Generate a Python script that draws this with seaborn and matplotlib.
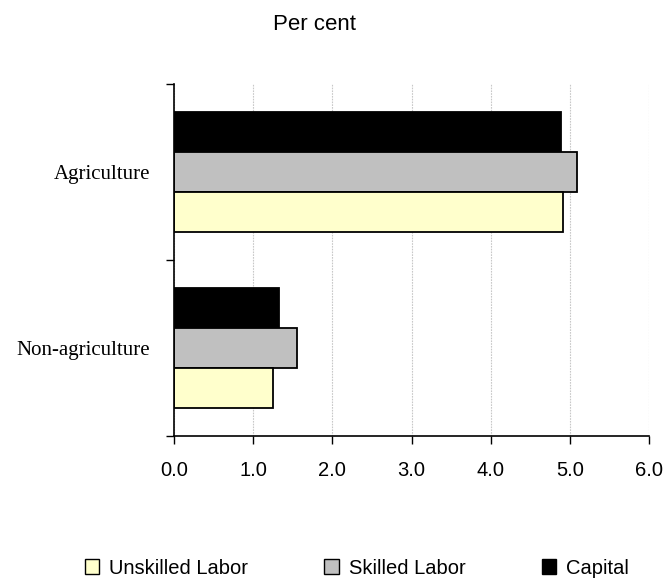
import matplotlib
matplotlib.use("Agg")
import matplotlib.pyplot as plt
from matplotlib.patches import Patch
import seaborn as sns
import pandas as pd

# Sector-level changes by factor of production (per cent)
sectors = ["Agriculture", "Non-agriculture"]
factors = ["Unskilled Labor", "Skilled Labor", "Capital"]
unskilled = [4.91, 1.25]
skilled = [5.09, 1.55]
capital = [4.89, 1.33]
x_ticks = [0.0, 1.0, 2.0, 3.0, 4.0, 5.0, 6.0]

colors = {"Unskilled Labor": "#FFFFCC", "Skilled Labor": "#C0C0C0", "Capital": "#000000"}

df = pd.DataFrame({
    "sector": sectors * 3,
    "factor": ["Unskilled Labor"] * 2 + ["Skilled Labor"] * 2 + ["Capital"] * 2,
    "value": unskilled + skilled + capital,
})

sns.set_style("white")
plt.rcParams["font.family"] = ["Liberation Sans", "DejaVu Sans"]
plt.rcParams["text.color"] = "black"
plt.rcParams["xtick.color"] = "black"
plt.rcParams["ytick.color"] = "black"
plt.rcParams["xtick.labelcolor"] = "black"
plt.rcParams["ytick.labelcolor"] = "black"

fig = plt.figure(figsize=(6.67, 5.78), dpi=100)
ax = fig.add_axes([0.261, 0.246, 0.712, 0.609])

# Capital drawn on top within each group, unskilled at the bottom
sns.barplot(data=df, y="sector", x="value", hue="factor",
            hue_order=["Capital", "Skilled Labor", "Unskilled Labor"],
            order=sectors, orient="h", palette=colors, width=0.68,
            saturation=1, edgecolor="black", linewidth=1.3, legend=False, ax=ax)

ax.set_xlim(0, 6.0)
ax.set_ylim(1.5, -0.5)
ax.set_xticks(x_ticks)
ax.set_xticklabels([f"{v:.1f}" for v in x_ticks], fontsize=14.5)
ax.tick_params(axis="x", bottom=True, direction="out", length=6, width=1.0,
               color="black", labelcolor="black", pad=12)

# Boundary ticks on the category axis, labels centred on each group
ax.set_yticks([-0.5, 0.5, 1.5])
ax.set_yticklabels([])
ax.set_yticks([0, 1], minor=True)
ax.set_yticklabels(sectors, minor=True, fontsize=15,
                   family=["Liberation Serif", "DejaVu Serif"])
ax.tick_params(axis="y", which="major", left=True, direction="out", length=6,
               width=1.0, color="black")
ax.tick_params(axis="y", which="minor", left=True, length=0, pad=17,
               labelcolor="black")

ax.set_xlabel("")
ax.set_ylabel("")
ax.xaxis.grid(True, color="#C8C8C8", linestyle=(0, (1.5, 1)), linewidth=0.8)
ax.yaxis.grid(False)
ax.set_axisbelow(True)

for side in ["top", "right"]:
    ax.spines[side].set_visible(False)
for side in ["left", "bottom"]:
    ax.spines[side].set_color("black")
    ax.spines[side].set_linewidth(1.2)

fig.text(0.471, 1 - 25 / 578, "Per cent", ha="center", va="center", fontsize=16,
         color="black")

handles = [Patch(facecolor=colors[f], edgecolor="black", linewidth=1.0) for f in factors]
fig.legend(handles, factors, loc="center", bbox_to_anchor=(0.535, 1 - 568 / 578),
           ncol=3, frameon=False, fontsize=14.5, handlelength=0.7, handleheight=0.7,
           handletextpad=0.5, columnspacing=3.8, labelcolor="black")

fig.savefig("out.png", dpi=100)
